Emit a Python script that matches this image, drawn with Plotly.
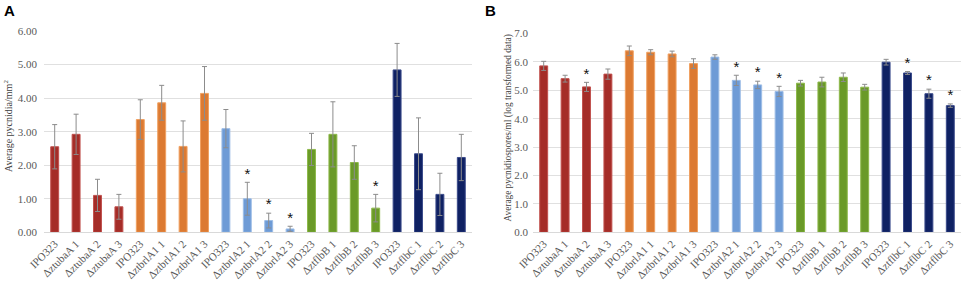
import plotly.graph_objects as go

labels = ["IPO323", "ΔztubaA 1", "ΔztubaA 2", "ΔztubaA 3",
          "IPO323", "ΔztbrlA1 1", "ΔztbrlA1 2", "ΔztbrlA1 3",
          "IPO323", "ΔztbrlA2 1", "ΔztbrlA2 2", "ΔztbrlA2 3",
          "IPO323", "ΔztflbB 1", "ΔztflbB 2", "ΔztflbB 3",
          "IPO323", "ΔztflbC 1", "ΔztflbC 2", "ΔztflbC 3"]
groups = ["tuba"] * 4 + ["brlA1"] * 4 + ["brlA2"] * 4 + ["flbB"] * 4 + ["flbC"] * 4

pycnidia = [2.55, 2.92, 1.10, 0.76, 3.36, 3.86, 2.56, 4.14, 3.09, 1.00,
            0.35, 0.10, 2.47, 2.92, 2.08, 0.72, 4.84, 2.34, 1.13, 2.23]
pycnidia_err = [0.66, 0.60, 0.48, 0.37, 0.59, 0.52, 0.76, 0.80, 0.57, 0.49,
                0.22, 0.08, 0.48, 0.97, 0.50, 0.41, 0.79, 1.07, 0.63, 0.69]
pycnidia_sig = [False] * 9 + [True, True, True] + [False, False, False, True] + [False] * 4

spores = [5.86, 5.41, 5.12, 5.57, 6.39, 6.34, 6.28, 5.94, 6.17, 5.35,
          5.19, 4.96, 5.25, 5.29, 5.46, 5.11, 5.99, 5.61, 4.88, 4.46]
spores_err = [0.16, 0.12, 0.16, 0.18, 0.17, 0.09, 0.10, 0.17, 0.08, 0.18,
              0.13, 0.18, 0.10, 0.17, 0.15, 0.10, 0.10, 0.05, 0.16, 0.06]
spores_sig = [False, False, True, False] + [False] * 5 + [True, True, True] + [False] * 5 + [True, True, True]

group_colors = {"tuba": "#A52D28", "brlA1": "#DC7A32", "brlA2": "#6E9BD6",
                "flbB": "#6A9A28", "flbC": "#0F2163"}
group_edges = {"tuba": "#C0504D", "brlA1": "#F0A060", "brlA2": "#9DBDE6",
               "flbB": "#8DB84A", "flbC": "#3A4A8A"}

xs = list(range(len(labels)))
fill = [group_colors[g] for g in groups]
edge = [group_edges[g] for g in groups]

fig = go.Figure()

for vals, errs, sig, xa, ya in [(pycnidia, pycnidia_err, pycnidia_sig, "x", "y"),
                                  (spores, spores_err, spores_sig, "x2", "y2")]:
    fig.add_trace(go.Bar(
        x=xs, y=vals, xaxis=xa, yaxis=ya, width=0.37,
        marker=dict(color=fill, line=dict(color=edge, width=1)),
        error_y=dict(type="data", array=errs, color="#8C8C8C", thickness=1, width=2.5),
        hoverinfo="skip", showlegend=False))
    sx = [x for x, s in zip(xs, sig) if s]
    sy = [v + e for v, e, s in zip(vals, errs, sig) if s]
    fig.add_trace(go.Scatter(
        x=sx, y=sy, xaxis=xa, yaxis=ya, mode="text", text=["*"] * len(sx),
        textposition="top center", cliponaxis=False,
        textfont=dict(family="Liberation Sans, Arial", size=15, color="#111111"),
        hoverinfo="skip", showlegend=False))

tickfont_x = dict(family="Liberation Serif, Times New Roman", size=11, color="#595959")
tickfont_y = dict(family="Liberation Serif, Times New Roman", size=11, color="#595959")

common_x = dict(tickmode="array", tickvals=xs, ticktext=labels, tickangle=-45,
                tickfont=tickfont_x, range=[-0.5, 19.5], showgrid=False,
                showline=True, linecolor="#D9D9D9", linewidth=1, ticks="",
                automargin=False, zeroline=False)
common_y = dict(showgrid=True, gridcolor="#E0E0E0", gridwidth=1, zeroline=False,
                showline=False, tickfont=tickfont_y, ticks="", automargin=False)

fig.update_layout(
    width=964, height=282,
    margin=dict(l=0, r=0, t=0, b=0),
    paper_bgcolor="white", plot_bgcolor="white",
    bargap=0.6,
    xaxis=dict(domain=[44 / 964, 472 / 964], anchor="y", **common_x),
    yaxis=dict(domain=[1 - 232.3 / 282, 1 - 31 / 282], anchor="x",
               range=[0, 6], tickvals=[0, 1, 2, 3, 4, 5, 6], ticklabelstandoff=6,
               ticktext=["0.00", "1.00", "2.00", "3.00", "4.00", "5.00", "6.00"], **common_y),
    xaxis2=dict(domain=[533 / 964, 961 / 964], anchor="y2", **common_x),
    yaxis2=dict(domain=[1 - 232.3 / 282, 1 - 33.5 / 282], anchor="x2",
                range=[0, 7], tickvals=[0, 1, 2, 3, 4, 5, 6, 7], ticklabelstandoff=4,
                ticktext=["0.0", "1.0", "2.0", "3.0", "4.0", "5.0", "6.0", "7.0"], **common_y),
    annotations=[
        dict(text="<b>A</b>", x=2 / 964, y=1 - 10 / 282, xref="paper", yref="paper",
             xanchor="left", yanchor="middle", showarrow=False,
             font=dict(family="Liberation Sans, Arial", size=15, color="#000000")),
        dict(text="<b>B</b>", x=483 / 964, y=1 - 10 / 282, xref="paper", yref="paper",
             xanchor="left", yanchor="middle", showarrow=False,
             font=dict(family="Liberation Sans, Arial", size=15, color="#000000")),
        dict(text="Average pycnidia/mm<sup>2</sup>", x=8 / 964, y=1 - 126 / 282,
             xref="paper", yref="paper", xanchor="center", yanchor="middle",
             textangle=-90, showarrow=False,
             font=dict(family="Liberation Serif, Times New Roman", size=10, color="#404040")),
        dict(text="Average pycnidiospores/ml (log transformed data)", x=507.5 / 964, y=1 - 128 / 282,
             xref="paper", yref="paper", xanchor="center", yanchor="middle",
             textangle=-90, showarrow=False,
             font=dict(family="Liberation Serif, Times New Roman", size=9.3, color="#404040")),
    ],
)

fig.write_html("out.html", config={"displayModeBar": False},
               post_script="document.body.style.margin='0';document.body.style.overflow='hidden';")
